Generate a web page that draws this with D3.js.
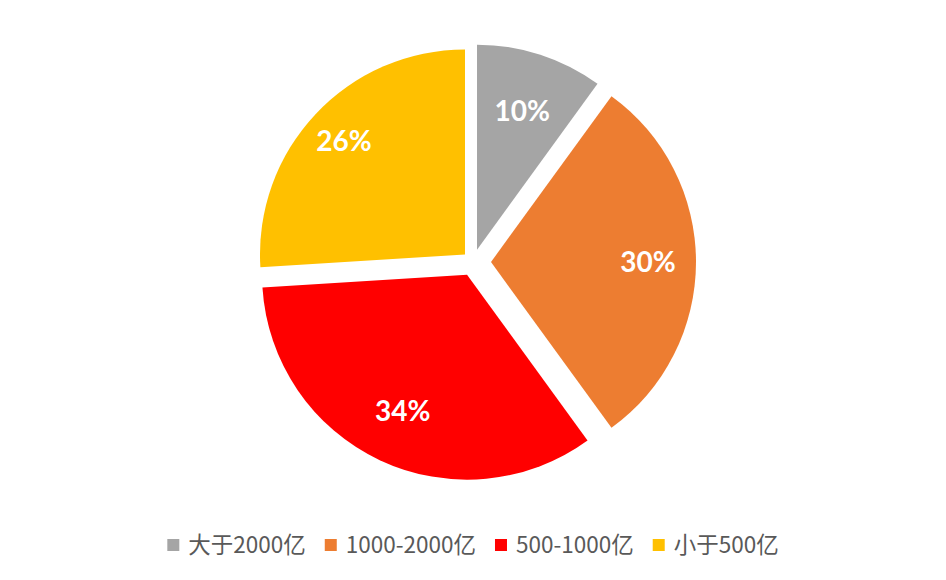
<!DOCTYPE html>
<html><head><meta charset="utf-8">
<script src="https://cdn.jsdelivr.net/npm/d3@7"></script>
<style>html,body{margin:0;padding:0;background:#fff}</style></head>
<body><svg id="chart" width="946" height="580"></svg>
<script>
// ---- data ----
const categories = ["大于2000亿", "1000-2000亿", "500-1000亿", "小于500亿"];
const values = [10, 30, 34, 26];
const valueLabels = ["10%", "30%", "34%", "26%"];
const colors = ["#A5A5A5", "#ED7D31", "#FF0000", "#FFC000"];

// ---- layout / style constants ----
const W = 946, H = 580;
const cx = 473, cy = 262, R = 205;
const explode = [13, 18, 14, 11];
const labelDist = [146, 157, 151, 166];

const svg = d3.select("#chart");
svg.append("rect").attr("width", W).attr("height", H).attr("fill", "#fff");

const data = categories.map((c, i) => ({ cat: c, v: values[i], label: valueLabels[i], color: colors[i], i }));
const pie = d3.pie().sort(null).value(d => d.v);
const arcs = pie(data);
const arc = d3.arc().innerRadius(0).outerRadius(R);

const g = svg.append("g").attr("transform", `translate(${cx},${cy})`);
const mid = d => (d.startAngle + d.endAngle) / 2;

g.selectAll("path.slice").data(arcs).join("path")
  .attr("class", "slice")
  .attr("d", arc)
  .attr("fill", d => d.data.color)
  .attr("transform", d => {
    const a = mid(d), e = explode[d.data.i];
    return `translate(${Math.sin(a) * e},${-Math.cos(a) * e})`;
  });

g.selectAll("text.lbl").data(arcs).join("text")
  .attr("class", "lbl")
  .attr("x", d => Math.sin(mid(d)) * (explode[d.data.i] + labelDist[d.data.i]))
  .attr("y", d => -Math.cos(mid(d)) * (explode[d.data.i] + labelDist[d.data.i]))
  .attr("dy", "0.36em")
  .attr("text-anchor", "middle")
  .attr("fill", "#fff")
  .style("font-family", "Lato, 'Open Sans', sans-serif")
  .style("font-weight", "bold")
  .style("font-size", "28px")
  .text(d => d.data.label);

// ---- legend ----
const legend = svg.append("g");
const sq = 12, gapSq = 9, gapItem = 19;
let xpos = 0;
data.forEach(d => {
  const it = legend.append("g").attr("transform", `translate(${xpos},0)`);
  it.append("rect").attr("x", 0).attr("y", -sq / 2).attr("width", sq).attr("height", sq).attr("fill", d.color);
  const t = it.append("text")
    .attr("x", sq + gapSq).attr("y", 0).attr("dy", "0.35em")
    .attr("fill", "#595959")
    .style("font-family", "'Noto Sans CJK SC', 'Noto Sans', sans-serif")
    .style("font-size", "22.5px")
    .text(d.cat);
  xpos += sq + gapSq + t.node().getComputedTextLength() + gapItem;
});
const totalW = xpos - gapItem;
legend.attr("transform", `translate(${cx - totalW / 2},545)`);
</script>
</body></html>
